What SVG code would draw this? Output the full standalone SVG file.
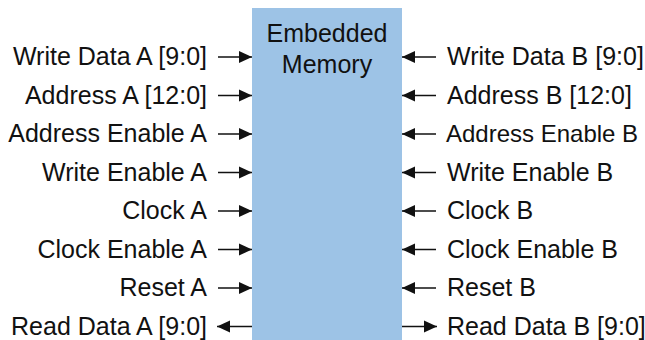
<svg xmlns="http://www.w3.org/2000/svg" width="645" height="340" viewBox="0 0 645 340">
<style>
text{font-family:"Liberation Sans",Arial,sans-serif;font-size:25px;fill:#111}
.l{text-anchor:end}
.r{text-anchor:start}
.c{text-anchor:middle}
.w{stroke:#111;stroke-width:1.3;fill:none}
</style>
<defs>
<marker id="ah" markerWidth="13" markerHeight="13" refX="13" refY="6.5" orient="auto" markerUnits="userSpaceOnUse">
<path d="M0,0.5 L13,6.5 L0,12.5 Z" fill="#111"/>
</marker>
</defs>
<rect width="645" height="340" fill="#fff"/>
<g id="memory">
<rect x="252" y="8" width="150" height="332" fill="#9DC3E6"/>
<text class="c" x="327" y="42">Embedded</text>
<text class="c" x="327" y="73">Memory</text>
</g>
<g id="connectors">
<line class="w" x1="218" y1="57" x2="252" y2="57" marker-end="url(#ah)"/>
<line class="w" x1="218" y1="95.5" x2="252" y2="95.5" marker-end="url(#ah)"/>
<line class="w" x1="218" y1="134" x2="252" y2="134" marker-end="url(#ah)"/>
<line class="w" x1="218" y1="172.5" x2="252" y2="172.5" marker-end="url(#ah)"/>
<line class="w" x1="218" y1="211" x2="252" y2="211" marker-end="url(#ah)"/>
<line class="w" x1="218" y1="249.5" x2="252" y2="249.5" marker-end="url(#ah)"/>
<line class="w" x1="218" y1="288" x2="252" y2="288" marker-end="url(#ah)"/>
<line class="w" x1="252" y1="326.5" x2="217" y2="326.5" marker-end="url(#ah)"/>
<line class="w" x1="436" y1="57" x2="402" y2="57" marker-end="url(#ah)"/>
<line class="w" x1="436" y1="95.5" x2="402" y2="95.5" marker-end="url(#ah)"/>
<line class="w" x1="436" y1="134" x2="402" y2="134" marker-end="url(#ah)"/>
<line class="w" x1="436" y1="172.5" x2="402" y2="172.5" marker-end="url(#ah)"/>
<line class="w" x1="436" y1="211" x2="402" y2="211" marker-end="url(#ah)"/>
<line class="w" x1="436" y1="249.5" x2="402" y2="249.5" marker-end="url(#ah)"/>
<line class="w" x1="436" y1="288" x2="402" y2="288" marker-end="url(#ah)"/>
<line class="w" x1="402" y1="326.5" x2="437" y2="326.5" marker-end="url(#ah)"/>
</g>
<g id="port-a">
<text class="l" x="207" y="65">Write Data A [9:0]</text>
<text class="l" x="207" y="103.5">Address A [12:0]</text>
<text class="l" x="207" y="142">Address Enable A</text>
<text class="l" x="207" y="180.5">Write Enable A</text>
<text class="l" x="207" y="219">Clock A</text>
<text class="l" x="207" y="257.5">Clock Enable A</text>
<text class="l" x="207" y="296">Reset A</text>
<text class="l" x="207" y="334.5">Read Data A [9:0]</text>
</g>
<g id="port-b">
<text class="r" x="447" y="65">Write Data B [9:0]</text>
<text class="r" x="447" y="103.5">Address B [12:0]</text>
<text class="r" x="446" y="142" style="font-size:24px">Address Enable B</text>
<text class="r" x="447" y="180.5">Write Enable B</text>
<text class="r" x="447" y="219">Clock B</text>
<text class="r" x="447" y="257.5">Clock Enable B</text>
<text class="r" x="447" y="296">Reset B</text>
<text class="r" x="447" y="334.5">Read Data B [9:0]</text>
</g>
</svg>
